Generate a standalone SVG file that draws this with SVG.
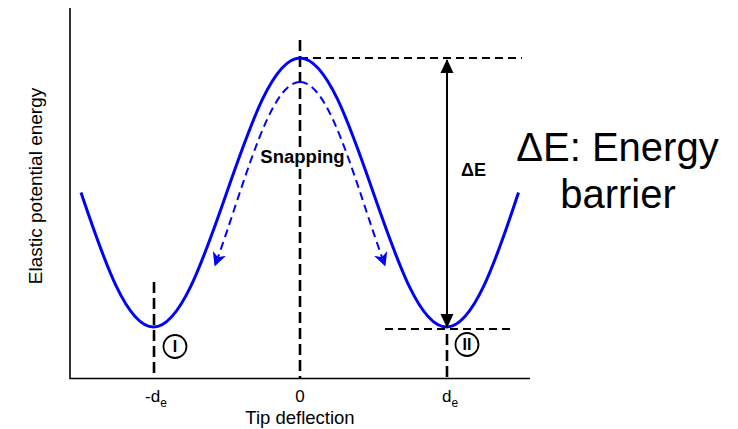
<svg xmlns="http://www.w3.org/2000/svg" width="738" height="429" viewBox="0 0 738 429">
<style>
text{font-family:"Liberation Sans",Arial,sans-serif;fill:#000}
.axis{stroke:#000;stroke-width:1.6;fill:none}
.vd{stroke:#000;stroke-width:2.6;stroke-dasharray:11 5;fill:none}
.hd{stroke:#000;stroke-width:2;stroke-dasharray:8 5;fill:none}
.curve{stroke:#0000ff;stroke-width:3;fill:none}
.snap{stroke:#0000ff;stroke-width:2;stroke-dasharray:8 5;fill:none}
.circ{stroke:#000;stroke-width:1.8;fill:#fff}
.tick{font-size:17px;text-anchor:middle}
</style>
<defs>
<marker id="blueHead" markerUnits="userSpaceOnUse" markerWidth="14" markerHeight="14" viewBox="0 0 12 12" refX="11" refY="6" orient="auto">
<path d="M0,0 L12,6 L0,12 L3.5,6 Z" fill="#0000ff"/>
</marker>
<marker id="blackHead" markerUnits="userSpaceOnUse" markerWidth="14" markerHeight="14" viewBox="0 0 14 14" refX="13" refY="7" orient="auto-start-reverse">
<path d="M0,0.5 L14,7 L0,13.5 Z" fill="#000"/>
</marker>
</defs>

<g id="axes">
<path class="axis" d="M70,8 V378.5 H530"/>
</g>

<g id="guides">
<path class="vd" d="M154,282 V378"/>
<path class="vd" d="M300,40 V378"/>
<path class="vd" d="M447,334 V378"/>
<path class="hd" d="M300,58 H522"/>
<path class="hd" d="M385,329 H510"/>
</g>

<g id="energy-curve">
<path class="curve" d="M81,192.5 C104.14,261.4 126.99,327 153.5,327 C180.01,327 202.86,261.4 226.75,192.5 C250.64,123.6 273.49,58 300,58 C326.51,58 349.36,123.6 373.25,192.5 C397.14,261.4 419.99,327 446.5,327 C473.01,327 495.86,261.4 518.5,192.5"/>
</g>

<g id="connectors">
<path class="snap" marker-end="url(#blueHead)" d="M300,82 C276.48,82 256.2,143 235,207 C228.34,227.1 221.66,247.3 215,265.5"/>
<path class="snap" marker-end="url(#blueHead)" d="M300,82 C323.52,82 343.8,143 365,207 C371.66,227.1 378.34,247.3 385,265.5"/>
<path stroke="#000" stroke-width="2" fill="none" marker-start="url(#blackHead)" marker-end="url(#blackHead)" d="M447,60 V327"/>
</g>

<g id="state-I">
<circle class="circ" cx="175" cy="346.5" r="11.5"/>
<text x="175" y="352.3" font-size="16" font-weight="bold" text-anchor="middle">I</text>
</g>
<g id="state-II">
<circle class="circ" cx="467" cy="344.5" r="11.5"/>
<text x="467" y="350.3" font-size="16" font-weight="bold" text-anchor="middle">II</text>
</g>

<g id="label-snapping">
<rect x="290" y="147" width="20" height="22" fill="#fff"/>
<text x="302.5" y="163" font-size="18.5" font-weight="bold" text-anchor="middle">Snapping</text>
</g>
<g id="label-dE">
<text x="473.5" y="176" font-size="18" font-weight="bold" text-anchor="middle">ΔE</text>
</g>
<g id="label-barrier">
<text x="617.5" y="161" font-size="40" text-anchor="middle">ΔE: Energy</text>
<text x="618" y="207.5" font-size="40" text-anchor="middle">barrier</text>
</g>

<g id="tick-labels">
<text class="tick" x="156" y="402">-d<tspan font-size="12" dy="5">e</tspan></text>
<text class="tick" x="300" y="402">0</text>
<text class="tick" x="450" y="402">d<tspan font-size="12" dy="5">e</tspan></text>
</g>
<g id="axis-titles">
<text x="300" y="424" font-size="18.5" text-anchor="middle">Tip deflection</text>
<text x="0" y="0" font-size="19" text-anchor="middle" transform="translate(42,186) rotate(-90)">Elastic potential energy</text>
</g>
</svg>
